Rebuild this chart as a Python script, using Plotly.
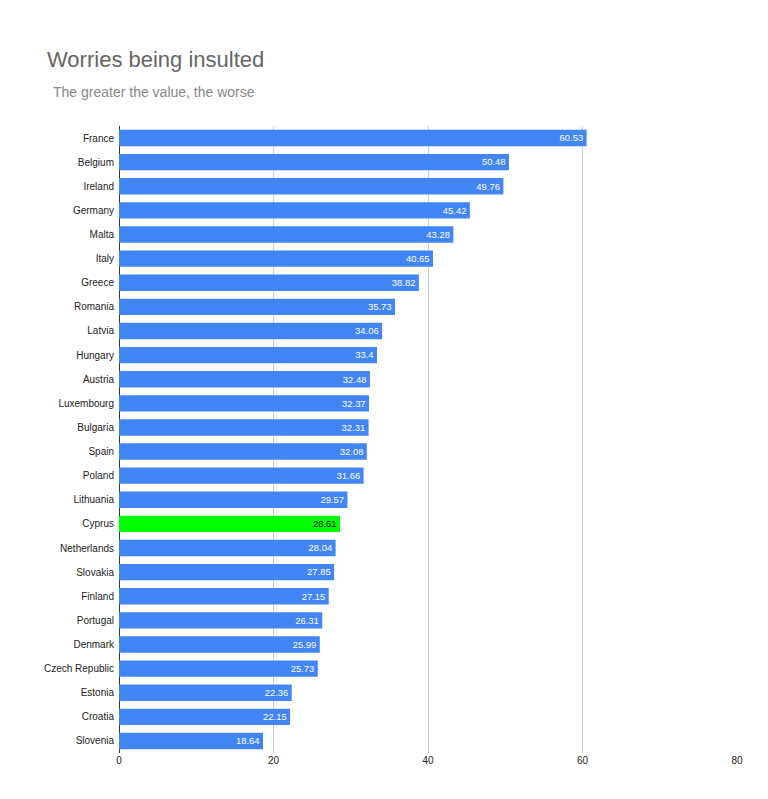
import plotly.graph_objects as go

countries = ['France', 'Belgium', 'Ireland', 'Germany', 'Malta', 'Italy', 'Greece', 'Romania',
             'Latvia', 'Hungary', 'Austria', 'Luxembourg', 'Bulgaria', 'Spain', 'Poland',
             'Lithuania', 'Cyprus', 'Netherlands', 'Slovakia', 'Finland', 'Portugal', 'Denmark',
             'Czech Republic', 'Estonia', 'Croatia', 'Slovenia']
values = [60.53, 50.48, 49.76, 45.42, 43.28, 40.65, 38.82, 35.73, 34.06, 33.4, 32.48, 32.37,
          32.31, 32.08, 31.66, 29.57, 28.61, 28.04, 27.85, 27.15, 26.31, 25.99, 25.73, 22.36,
          22.15, 18.64]
highlight = 'Cyprus'

colors = ['#00ff00' if c == highlight else '#4285f4' for c in countries]
text_colors = ['#000000' if c == highlight else '#ffffff' for c in countries]

fig = go.Figure(go.Bar(
    x=values, y=countries, orientation='h',
    marker_color=colors, marker_line_width=0,
    text=[str(v) for v in values], textposition='inside', insidetextanchor='end',
    textfont=dict(color=text_colors, size=10, family='Arial'),
))

fig.update_layout(
    width=768, height=799,
    paper_bgcolor='white', plot_bgcolor='white',
    margin=dict(l=111, r=39, t=118, b=54),
    bargap=0.32,
    font=dict(family='Arial', size=10, color='#222222'),
    showlegend=False,
    annotations=[
        dict(text='Worries being insulted', x=37, y=51, xref='paper', yref='paper',
             showarrow=False, font=dict(size=22, color='#666666')),
        dict(text='The greater the value, the worse', x=43, y=84, showarrow=False,
             font=dict(size=14, color='#888888')),
    ],
)
# place title/subtitle in pixel terms
fig.layout.annotations = []
fig.add_annotation(text='Worries being insulted', xref='paper', yref='paper',
                   x=-111 / 618 + 37 / 618, y=1 + (118 - 51) / 627, xanchor='left', yanchor='middle',
                   showarrow=False, font=dict(size=22, color='#666666'))
fig.add_annotation(text='The greater the value, the worse', xref='paper', yref='paper',
                   x=-111 / 618 + 43 / 618, y=1 + (118 - 84) / 627, xanchor='left', yanchor='middle',
                   showarrow=False, font=dict(size=14, color='#888888'))

fig.update_xaxes(range=[0, 80], dtick=20, showgrid=True, gridcolor='#cccccc', zeroline=True,
                 zerolinecolor='#333333', zerolinewidth=1, tickfont=dict(size=10))
fig.update_yaxes(autorange='reversed', ticks='', ticklabelstandoff=4, tickfont=dict(size=10))

fig.write_html('out.html')
